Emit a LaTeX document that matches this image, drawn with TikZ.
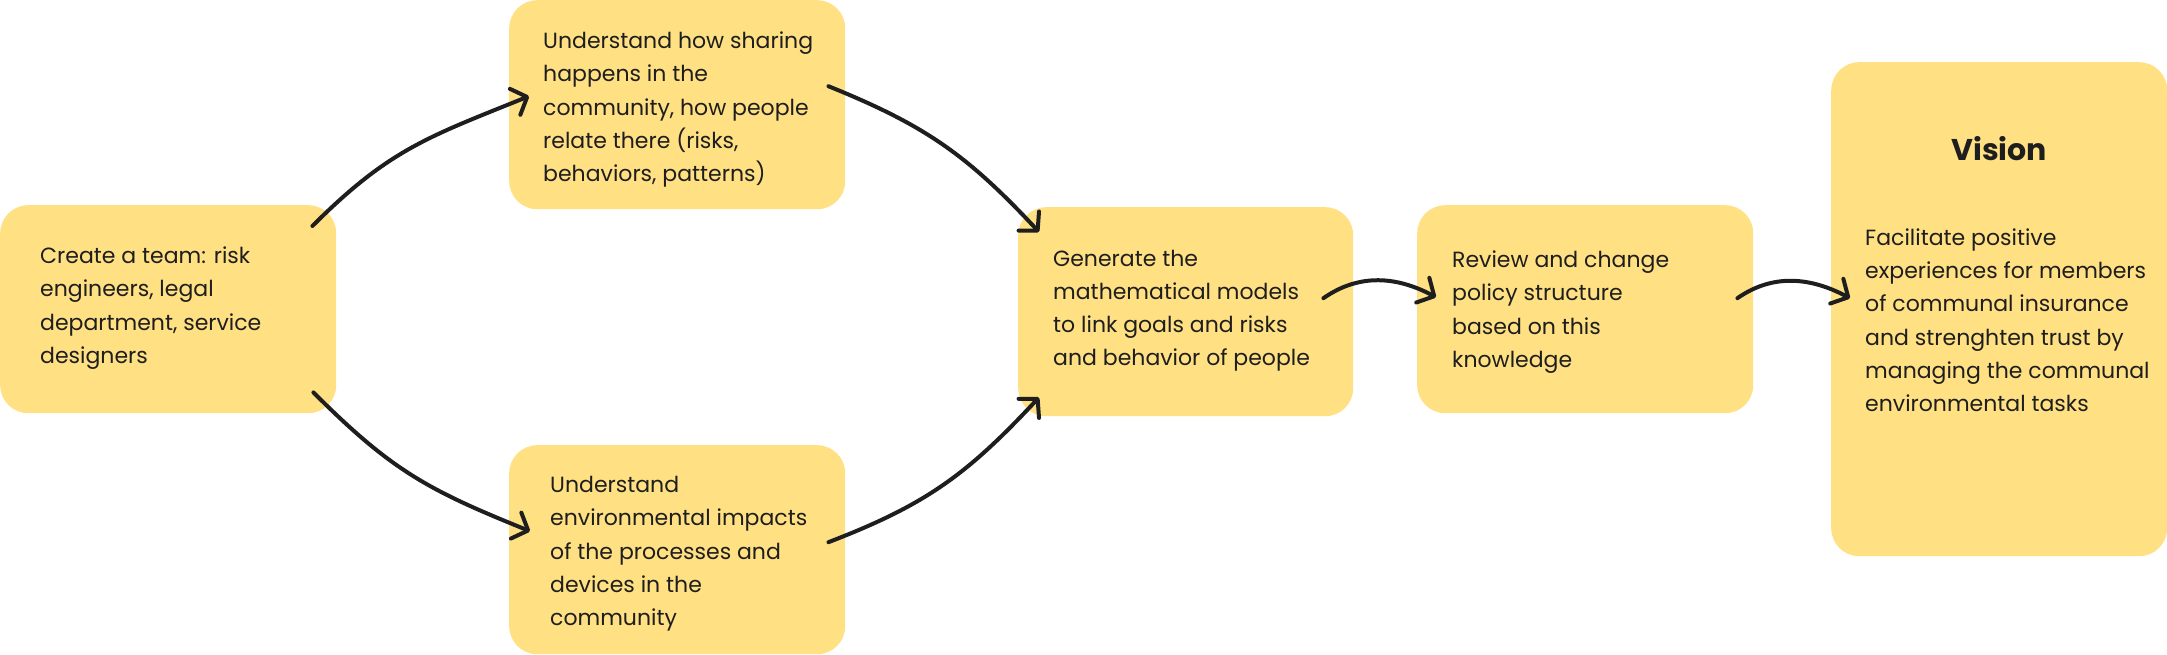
\documentclass[tikz,border=0pt]{standalone}
\usepackage{fontspec}
\setmainfont{Poppins}
\usetikzlibrary{arrows.meta,calc}
\definecolor{boxfill}{HTML}{FFE083}
\definecolor{ink}{HTML}{1E1E1E}
\begin{document}
\begin{tikzpicture}[x=1pt,y=1pt,
  box/.style={fill=boxfill,draw=none,rounded corners=28pt,anchor=north west,inner sep=0pt},
  txt/.style={anchor=west,align=left,inner sep=0pt,text=ink,font=\fontsize{22}{33.3}\selectfont},
  conn/.style={draw=ink,line width=4pt,line cap=round,
    -{Straight Barb[length=13pt,width=28pt,round]}}]
\useasboundingbox (0,0) rectangle (2167,-654);
% boxes
\node[box,minimum width=336pt,minimum height=208pt] (b1) at (0,-205) {};
\node[box,minimum width=336pt,minimum height=209pt] (b2) at (509,0) {};
\node[box,minimum width=336pt,minimum height=209pt] (b3) at (509,-445) {};
\node[box,minimum width=335pt,minimum height=209pt] (b4) at (1018,-207) {};
\node[box,minimum width=336pt,minimum height=208pt] (b5) at (1417,-205) {};
\node[box,minimum width=336pt,minimum height=494pt] (b6) at (1831,-62) {};
% texts
\node[txt] (t1) at ($(b1.west)+(40,1)$) {Create a team: risk\\engineers, legal\\department, service\\designers};
\node[txt] (t2) at ($(b2.west)+(34,-5)$) {Understand how sharing\\happens in the\\community, how people\\relate there (risks,\\behaviors, patterns)};
\node[txt] (t3) at ($(b3.west)+(41,-4)$) {Understand\\environmental impacts\\of the processes and\\devices in the\\community};
\node[txt] (t4) at ($(b4.west)+(35,1)$) {Generate the\\mathematical models\\to link goals and risks\\and behavior of people};
\node[txt] (t5) at ($(b5.west)+(35,-3)$) {Review and change\\policy structure\\based on this\\knowledge};
\node[txt,font=\fontsize{30}{36}\selectfont\bfseries,anchor=center] (t6h) at ($(b6.north)+(0,-87)$) {Vision};
\node[txt] (t6) at ($(b6.west)+(34,-11)$) {Facilitate positive\\experiences for members\\of communal insurance\\and strenghten trust by\\managing the communal\\environmental tasks};
% connectors
\draw[conn] ($(b1.north east)+(-24,-21)$) to[out=45,in=202,looseness=1.1] ($(b2.west)+(20,8.5)$);
\draw[conn] ($(b1.south east)+(-23,21)$) to[out=-45,in=158,looseness=1.1] ($(b3.west)+(21,18.5)$);
\draw[conn] ($(b2.east)+(-17,18.5)$) to[out=-22,in=133,looseness=1.05] ($(b4.north west)+(21,-25)$);
\draw[conn] ($(b3.east)+(-17,7.5)$) to[out=21,in=227,looseness=1.05] ($(b4.south west)+(21,19)$);
\draw[conn] ($(b4.east)+(-30,13.5)$) to[out=35,in=152] ($(b5.west)+(19,12)$);
\draw[conn] ($(b5.east)+(-16,11)$) to[out=35,in=152] ($(b6.west)+(19,11)$);
\end{tikzpicture}
\end{document}
